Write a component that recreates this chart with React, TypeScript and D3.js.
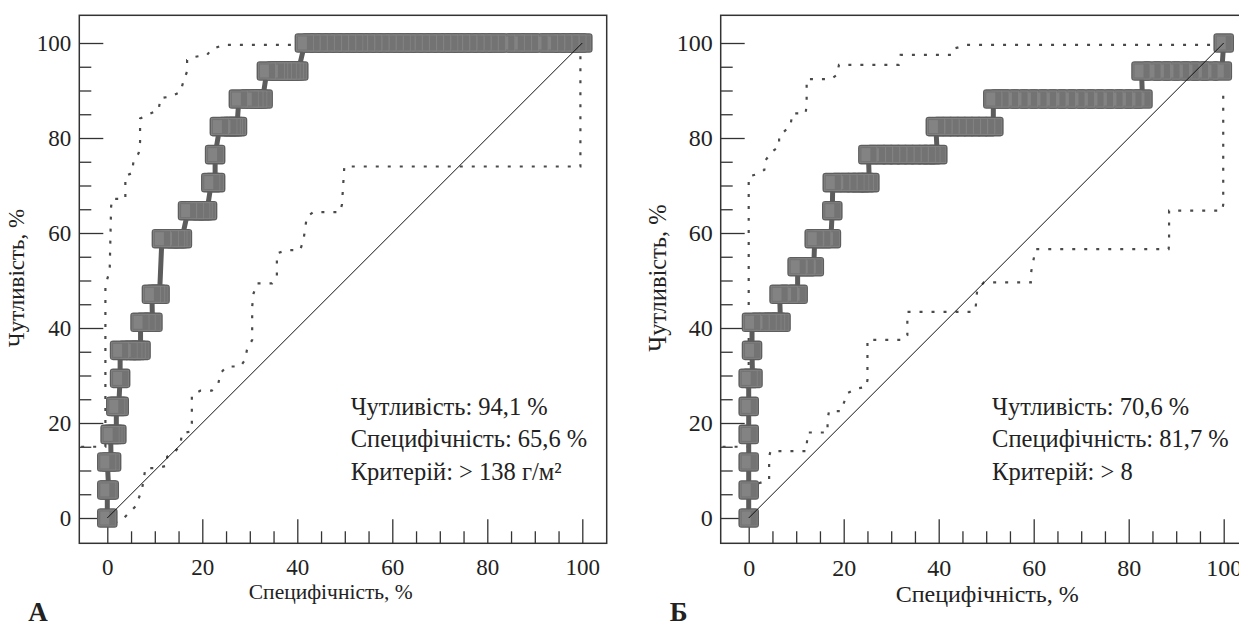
import React, { useEffect, useRef } from 'react';
import * as d3 from 'd3';

// sensitivity levels (steps of 1/17)
const SENS_LEVELS = [0, 5.9, 11.8, 17.6, 23.5, 29.4, 35.3, 41.2, 47.1, 52.9, 58.8, 64.7, 70.6, 76.5, 82.4, 88.2, 94.1, 100];

// 100 - specificity values of the points on every level, panel A
const ROC_A_X: number[][] = [
  [0],
  [0, 0.3],
  [0, 0.8],
  [0.7, 1.3, 1.9],
  [1.9, 2.4],
  [2.7],
  [2.7, 4.5, 5.5, 6.2, 7.0],
  [7.0, 8.3, 9.5],
  [9.4, 10.3, 11.0],
  [],
  [11.5, 13.2, 14.5, 15.0, 15.7],
  [17.0, 18.5, 19.8, 20.3, 21.0],
  [21.9, 22.7],
  [22.7],
  [23.7, 25.5, 26.2, 26.7, 27.3],
  [27.7, 30.0, 31.0, 31.8, 32.7],
  [33.6, 35.5, 36.2, 37.0, 38.0, 38.8, 39.5, 40.2],
  [41.6, 43, 44.5, 46, 47.5, 49, 50.5, 52, 53, 54.5, 56, 57.5, 59, 60.5, 62, 63, 64.5, 66, 67.5, 69,
    70.5, 72, 73, 74.5, 76, 77.5, 79, 80.5, 82, 84, 86, 87.5, 89, 91, 93, 94.5, 96, 97.5, 99, 100],
];

// panel B
const ROC_B_X: number[][] = [
  [0],
  [0],
  [0],
  [0],
  [0],
  [0, 0.8],
  [0.7],
  [0.7, 2.5, 4, 5, 5.8, 6.7],
  [6.5, 8.5, 10.3],
  [10.3, 12, 13.7],
  [13.9, 15.5, 17.3],
  [17.6],
  [17.7, 19.5, 21, 22.5, 23.5, 24.5, 25.4],
  [25.2, 27, 28.5, 30, 31.5, 33, 34.5, 36, 37.5, 38.5, 39.7],
  [39.4, 41, 42.5, 44, 45.5, 47, 48.5, 50, 51.5],
  [51.5, 53, 55, 57, 59, 61, 63, 65, 67, 69, 71, 73, 75, 77, 79, 81, 82.9],
  [82.7, 85, 87, 89, 91, 93, 95, 97, 99.6],
  [100],
];

// 95% confidence bounds
const UPPER_A: [number, number][] = [[-5.5, 15], [-0.4, 15], [-0.4, 17], [-0.4, 49], [0.5, 52], [0.8, 65.5], [1, 67.2], [3.8, 67.2],
  [3.8, 72], [5.2, 72.6], [5.5, 75], [6.6, 76.8], [6.9, 79.2], [6.9, 84.1], [8.7, 85], [10.8, 85.9], [11.2, 88.4], [13.3, 88.7],
  [15.4, 89.7], [16.1, 92.2], [16.8, 94], [16.8, 96.4], [18.5, 97.1], [21, 97.5], [22, 98.7], [24.4, 99.6], [39, 99.6], [100, 100]];

const LOWER_A: [number, number][] = [[1.5, -1], [3, -0.5], [4.5, 1], [6, 2.5], [7.3, 6], [7.8, 9], [8, 10.5], [10.5, 10.5], [12.5, 11],
  [12.6, 12.9], [14.3, 14], [15.4, 15.4], [15.7, 17.8], [17.5, 18.2], [17.8, 20], [17.8, 25.9], [19.6, 26.8], [22, 26.8], [23.4, 28.4],
  [23.8, 30.5], [25.2, 31.9], [28, 31.9], [29, 33.3], [29.4, 35.4], [30.5, 37.5], [30.5, 44.5], [30.8, 47.3], [31.5, 49.4], [34.7, 49.4],
  [35.7, 50.8], [35.7, 55.7], [37.8, 56.4], [40.6, 56.4], [41.3, 58.5], [42, 63.4], [43.4, 64.4], [49, 64.4], [49.4, 66], [49.9, 74],
  [99.6, 74], [99.6, 99.2]];

const UPPER_B: [number, number][] = [[-5.5, 15], [0, 15], [0, 71.9], [1.8, 72.4], [3.3, 73.3], [3.3, 75], [4.9, 77.1], [6.4, 78.2],
  [6.4, 80.3], [7.8, 81.7], [8.8, 82.7], [9.2, 85.2], [12, 85.2], [12.2, 87.3], [12.2, 92.4], [17.3, 92.4], [18.6, 93.3], [19, 95.4],
  [31.6, 95.4], [32, 96.4], [32, 97.5], [42.9, 97.5], [43.5, 98.9], [45.9, 99.6], [97.2, 99.6], [100, 100]];

const LOWER_B: [number, number][] = [[2.1, 7.3], [4.3, 8], [4.3, 12.9], [4.6, 14.1], [12.2, 14.1], [12.2, 15], [12.4, 18], [16.6, 18],
  [16.6, 20.6], [16.9, 22.5], [19.4, 22.5], [20.8, 26.3], [23, 27.3], [24.7, 27.6], [25, 29], [25, 37.5], [32.7, 37.5], [33.4, 38.5],
  [33.4, 43.4], [47.4, 43.4], [47.8, 44.5], [48.1, 48], [49.5, 49.6], [59.4, 49.6], [59.5, 52], [60.4, 56.6], [88.4, 56.6],
  [88.5, 57.5], [88.5, 64.7], [99.7, 64.7], [99.9, 66], [99.9, 90.1]];

const NOTES_A = ['Чутливість: 94,1 %', 'Специфічність: 65,6 %', 'Критерій: > 138 г/м²'];
const NOTES_B = ['Чутливість: 70,6 %', 'Специфічність: 81,7 %', 'Критерій: > 8'];

const MAJOR_TICKS = [0, 20, 40, 60, 80, 100];
const MINOR_TICKS = [5, 10, 15, 25, 30, 35, 45, 50, 55, 65, 70, 75, 85, 90, 95];

const FONT = "'Liberation Serif', 'DejaVu Serif', serif";

type PanelProps = {
  dx: number;
  rows: number[][];
  upper: [number, number][];
  lower: [number, number][];
  notes: string[];
  letter: string;
  tickFont: number;
  titleFont: number;
  yTitleFont: number;
  titleShift: number;
  titleY: number;
};

function Panel({ dx, rows, upper, lower, notes, letter, tickFont, titleFont, yTitleFont, titleShift, titleY }: PanelProps) {
  const gx = useRef<SVGGElement>(null);
  const gy = useRef<SVGGElement>(null);

  const box = { left: 79.3 + dx, right: 606.7 + dx, top: 15.3, bottom: 543.3 };
  const x = d3.scaleLinear().domain([0, 100]).range([107.3 + dx, 582.3 + dx]);
  const y = d3.scaleLinear().domain([0, 100]).range([518, 43]);

  useEffect(() => {
    const sx = d3.select(gx.current);
    sx.selectAll('*').remove();
    sx.append('g').call(d3.axisBottom(x).tickValues(MAJOR_TICKS).tickSize(-24).tickPadding(15.5).tickFormat(d3.format('d')));
    sx.append('g').call(d3.axisBottom(x).tickValues(MINOR_TICKS).tickSize(-12).tickFormat(() => ''));

    const sy = d3.select(gy.current);
    sy.selectAll('*').remove();
    sy.append('g').call(d3.axisLeft(y).tickValues(MAJOR_TICKS).tickSize(-24).tickPadding(8).tickFormat(d3.format('d')));
    sy.append('g').call(d3.axisLeft(y).tickValues(MINOR_TICKS).tickSize(-12).tickFormat(() => ''));

    [sx, sy].forEach(s => {
      s.selectAll('g').attr('font-family', null).attr('font-size', null);
      s.selectAll('.domain').remove();
      s.selectAll('line').attr('stroke', '#333').attr('stroke-width', 1.3);
      s.selectAll('text').style('font-family', FONT).style('font-size', `${tickFont}px`).attr('fill', '#222');
    });
  }, []);

  const points: [number, number][] = [];
  rows.forEach((xs, i) => xs.forEach(v => points.push([v, SENS_LEVELS[i]])));

  const line = d3.line<[number, number]>().x(d => x(d[0])).y(d => y(d[1]));

  const mw = 19, mh = 18;
  const markers = points.slice().reverse();
  const txt = { fontFamily: FONT, fill: '#222' };

  return (
    <g>
      <rect x={box.left} y={box.top} width={box.right - box.left} height={box.bottom - box.top}
        fill="none" stroke="#333" strokeWidth={1.5} />
      <g ref={gx} transform={`translate(0,${box.bottom})`} />
      <g ref={gy} transform={`translate(${box.left},0)`} />

      <path d={line(upper) || ''} fill="none" stroke="#4a4a4a" strokeWidth={2.2} strokeDasharray="3,9" />
      <path d={line(lower) || ''} fill="none" stroke="#4a4a4a" strokeWidth={2.2} strokeDasharray="3,9" />

      <path d={line(points) || ''} fill="none" stroke="#5c5c5c" strokeWidth={5} />
      {markers.map((p, i) => (
        <rect key={'o' + i} x={x(p[0]) - mw / 2} y={y(p[1]) - mh / 2} width={mw} height={mh} rx={2.5}
          fill="#6c6c6c" stroke="#5e5e5e" strokeWidth={1.6} />
      ))}
      {markers.map((p, i) => (
        <g key={'i' + i}>
          <rect x={x(p[0]) - mw / 2 + 1} y={y(p[1]) - mh / 2 + 1} width={mw - 2} height={mh - 2}
            fill="#737373" stroke="#848484" strokeWidth={0.8} />
          <rect x={x(p[0]) - mw / 2 + 2.5} y={y(p[1]) - mh / 2 + 2.5} width={9} height={mh - 5}
            fill="#838383" />
        </g>
      ))}

      <line x1={x(0)} y1={y(0)} x2={x(100)} y2={y(100)} stroke="#111" strokeWidth={1} />

      {notes.map((t, i) => (
        <text key={i} x={350.7 + dx} y={414.5 + i * 32.5} style={{ ...txt, fontSize: 24.5 }}>{t}</text>
      ))}

      <text x={(x(0) + x(100)) / 2 + titleShift} y={titleY} textAnchor="middle" style={{ ...txt, fontSize: titleFont }}>
        Специфічність, %
      </text>
      <text transform={`translate(${box.left - 55},278) rotate(-90)`} textAnchor="middle"
        style={{ ...txt, fontSize: yTitleFont }}>
        Чутливість, %
      </text>
      <text x={box.left - 51} y={621} style={{ ...txt, fontSize: 27, fontWeight: 'bold' }}>{letter}</text>
    </g>
  );
}

export default function App() {
  return (
    <svg width={1239} height={626} style={{ position: 'absolute', left: 0, top: 0, background: '#fff' }}>
      <rect x={0} y={0} width={1239} height={626} fill="#fff" />
      <Panel dx={0} rows={ROC_A_X} upper={UPPER_A} lower={LOWER_A} notes={NOTES_A} letter="А"
        tickFont={23} titleFont={21.5} yTitleFont={23} titleShift={-14} titleY={599} />
      <Panel dx={641.4} rows={ROC_B_X} upper={UPPER_B} lower={LOWER_B} notes={NOTES_B} letter="Б"
        tickFont={24} titleFont={24} yTitleFont={24.5} titleShift={1} titleY={602} />
    </svg>
  );
}
